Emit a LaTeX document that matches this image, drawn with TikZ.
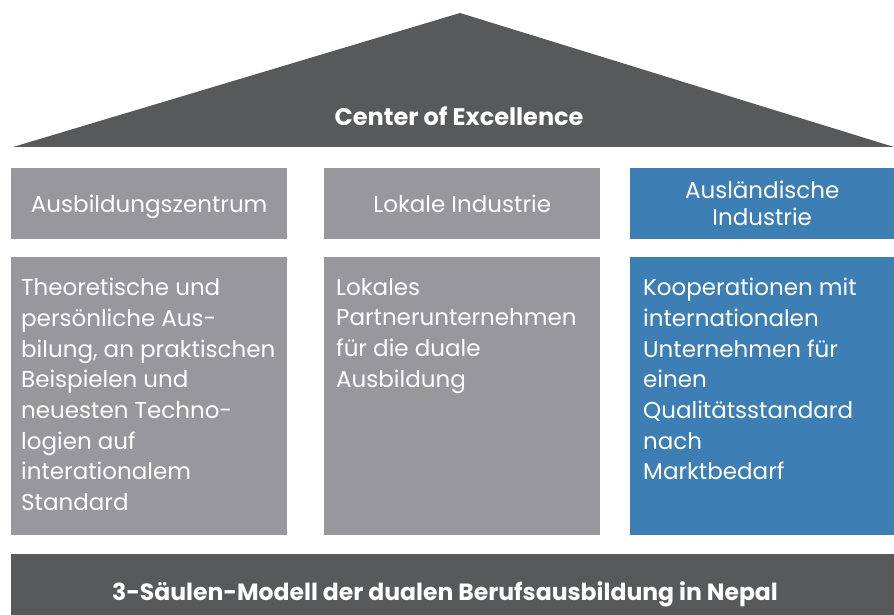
\documentclass[tikz,border=0pt]{standalone}
\usepackage{fontspec}
\setmainfont{Poppins}
\definecolor{roofgray}{HTML}{58595B}
\definecolor{pillargray}{HTML}{98989C}
\definecolor{pillarblue}{HTML}{3D7EB5}
\tikzset{
	headbox/.style={fill=pillargray, text=white, anchor=north west, inner sep=0pt,
		minimum width=276pt, minimum height=71pt, align=center, text depth=0pt,
		font=\fontsize{23}{27}\selectfont},
	bodybox/.style={fill=pillargray, anchor=north west, inner sep=0pt,
		minimum width=276pt, minimum height=278pt},
	bodytext/.style={text=white, anchor=north west, inner sep=0pt, align=left,
		font=\fontsize{23}{30.7}\selectfont},
	titletext/.style={text=white, font=\fontsize{24}{28}\selectfont\bfseries}
}
\begin{document}
\begin{tikzpicture}[x=1pt,y=-1pt]
\useasboundingbox (0,0) rectangle (894,615);
% roof
\fill[roofgray] (13,147) -- (460,13) -- (894,147) -- cycle;
\node[titletext] (roof) at (459,116) {Center of Excellence};
% pillar heads
\path
	(11,168) node[headbox] (head1) {Ausbildungszentrum}
	(324,168) node[headbox] (head2) {Lokale Industrie}
	(630,168) node[headbox, fill=pillarblue, minimum width=264pt] (head3) {Ausländische\\Industrie};
% pillar bodies
\path
	(11,257) node[bodybox] (body1) {}
	(324,257) node[bodybox] (body2) {}
	(630,257) node[bodybox, fill=pillarblue, minimum width=264pt] (body3) {};
\node[bodytext] (text1) at ([shift={(10,21)}]body1.north west)
	{Theoretische und\\persönliche Aus-\\bilung, an praktischen\\Beispielen und\\neuesten Techno-\\logien auf\\interationalem\\Standard};
\node[bodytext] (text2) at ([shift={(12,21)}]body2.north west)
	{Lokales\\Partnerunternehmen\\für die duale\\Ausbildung};
\node[bodytext] (text3) at ([shift={(13,21)}]body3.north west)
	{Kooperationen mit\\internationalen\\Unternehmen für\\einen\\Qualitätsstandard\\nach\\Marktbedarf};
% base
\node[fill=roofgray, anchor=north west, inner sep=0pt, minimum width=883pt, minimum height=61pt] (base) at (11,554) {};
\node[titletext, font=\fontsize{23.5}{28}\selectfont\bfseries] (basetext) at (445,594) {3-Säulen-Modell der dualen Berufsausbildung in Nepal};
\end{tikzpicture}
\end{document}
